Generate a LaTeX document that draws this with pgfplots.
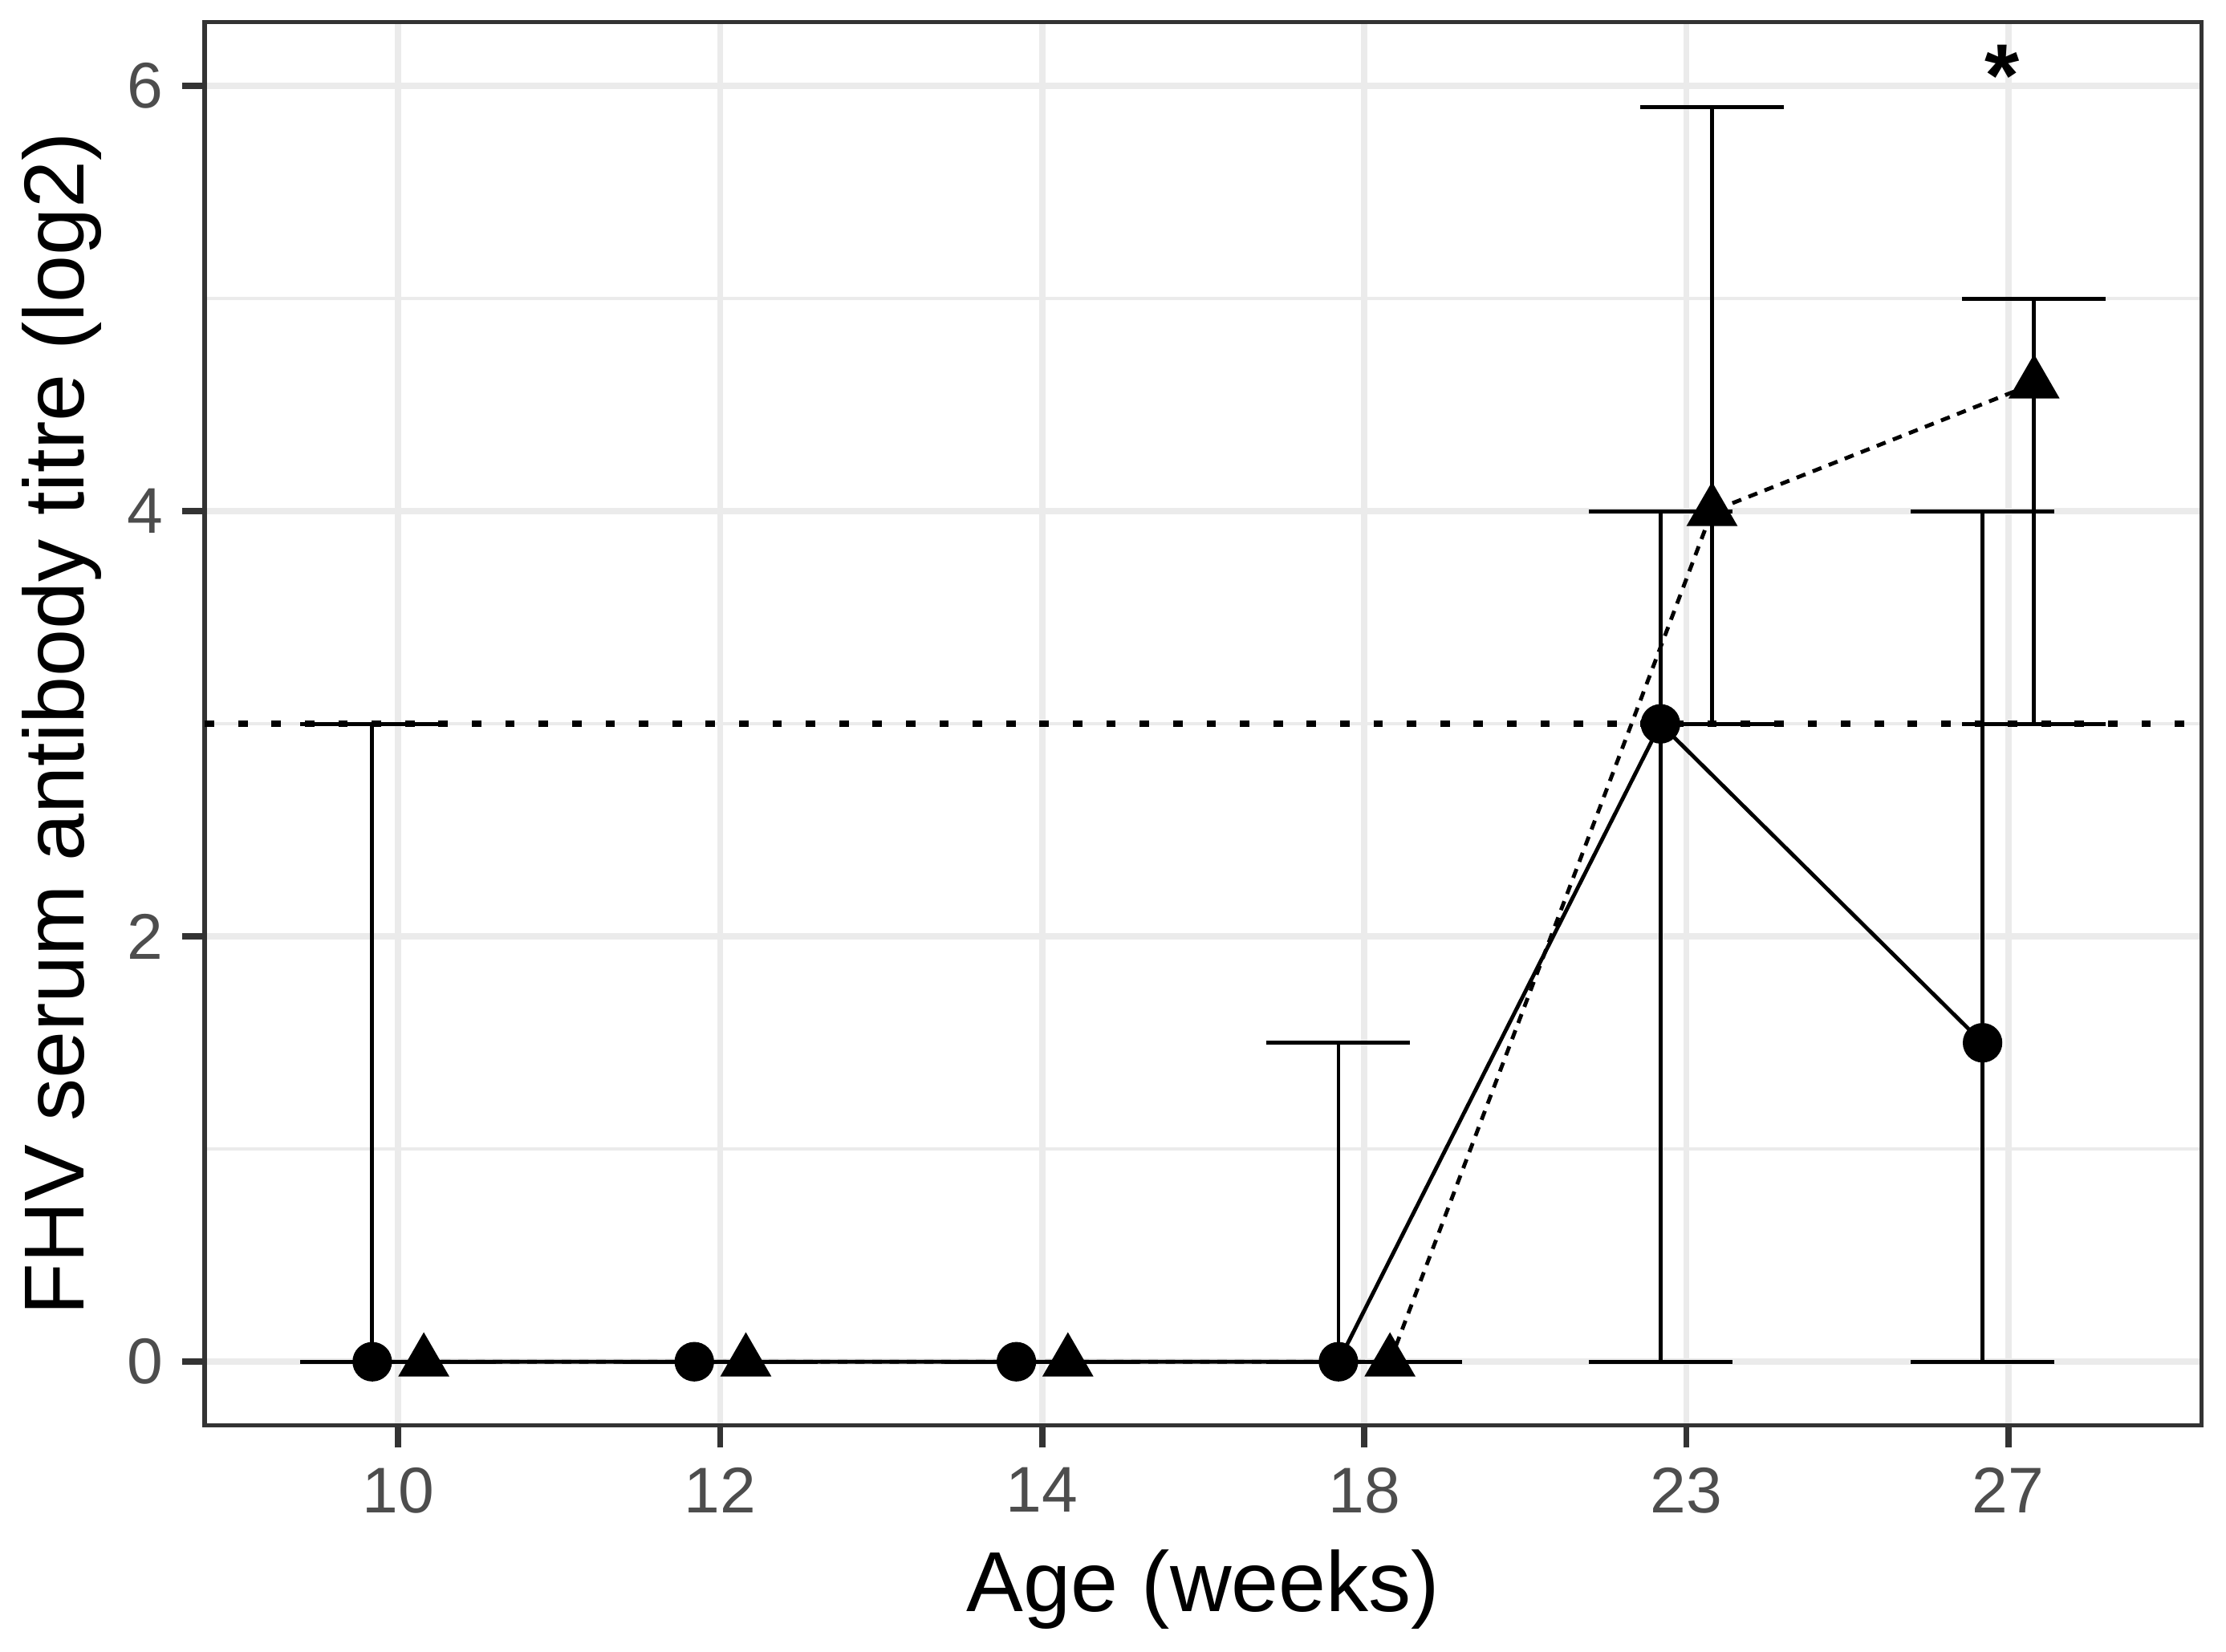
\documentclass[border=0pt]{standalone}
\usepackage{fontspec}
\setmainfont{Liberation Sans}
\usepackage{pgfplots}
\pgfplotsset{compat=1.18}
\usetikzlibrary{calc}
\definecolor{gridgrey}{HTML}{EBEBEB}
\definecolor{axgrey}{HTML}{333333}
\definecolor{ticklab}{HTML}{4D4D4D}

\begin{document}
\begin{tikzpicture}
\begin{axis}[
    scale only axis,
    width=358.8pt, height=252.2pt,
    xmin=0.4, xmax=6.6,
    ymin=-0.3, ymax=6.3,
    xtick={1,2,3,4,5,6},
    xticklabels={10,12,14,18,23,27},
    ytick={0,2,4,6},
    minor ytick={1,3,5},
    grid=both,
    major grid style={gridgrey, line width=1.1pt},
    minor grid style={gridgrey, line width=0.55pt},
    axis line style={axgrey, line width=0.8pt},
    major tick style={axgrey, line width=1.1pt},
    major tick length=4pt,
    minor tick length=0pt,
    tick align=outside,
    xtick pos=bottom, ytick pos=left,
    /pgf/number format/assume math mode=true,
    ticklabel style={font=\fontsize{11.6}{11.6}\selectfont, text=ticklab},
    xlabel={Age (weeks)},
    ylabel={FHV serum antibody titre (log2)},
    label style={font=\fontsize{15.3}{15.3}\selectfont},
    xlabel style={at={(axis description cs:0.5,-0.1168)}, anchor=center},
    ylabel style={at={(axis description cs:-0.0715,0.5)}, anchor=center},
    clip=false,
]
% threshold line
\addplot[black, line width=1.15pt, dash pattern=on 1.7pt off 4.3pt, forget plot]
    coordinates {(0.4,3) (6.6,3)};

% group 1 (circles, solid line)
\addplot[black, line width=0.7pt, mark=*, mark size=3.2pt, mark options={solid},
    error bars/.cd, y dir=both, y explicit,
    error bar style={line width=0.7pt, solid},
    error mark options={rotate=90, mark size=12.9pt, line width=0.7pt}]
coordinates {
    (0.92,0)   += (0,3)   -= (0,0)
    (1.92,0)   += (0,0)   -= (0,0)
    (2.92,0)   += (0,0)   -= (0,0)
    (3.92,0)   += (0,1.5) -= (0,0)
    (4.92,3)   += (0,1)   -= (0,3)
    (5.92,1.5) += (0,2.5) -= (0,1.5)
};

% group 2 (triangles, dashed line)
\addplot[black, line width=0.7pt, dash pattern=on 1.7pt off 1.4pt,
    mark=triangle*, mark size=4.6pt, mark options={solid},
    error bars/.cd, y dir=both, y explicit,
    error bar style={line width=0.7pt, solid},
    error mark options={rotate=90, mark size=12.9pt, line width=0.7pt, solid}]
coordinates {
    (1.08,0)   += (0,0)   -= (0,0)
    (2.08,0)   += (0,0)   -= (0,0)
    (3.08,0)   += (0,0)   -= (0,0)
    (4.08,0)   += (0,0)   -= (0,0)
    (5.08,4)   += (0,1.9) -= (0,1)
    (6.08,4.6) += (0,0.4) -= (0,1.6)
};

\node[font=\bfseries\fontsize{16}{16}\selectfont] at (axis cs:5.98,6.05) {*};
\end{axis}
\pgfresetboundingbox
\useasboundingbox ($(current axis.south west)+(-36.8pt,-40.7pt)$) rectangle ($(current axis.north east)+(4.4pt,4.0pt)$);
\end{tikzpicture}
\end{document}
